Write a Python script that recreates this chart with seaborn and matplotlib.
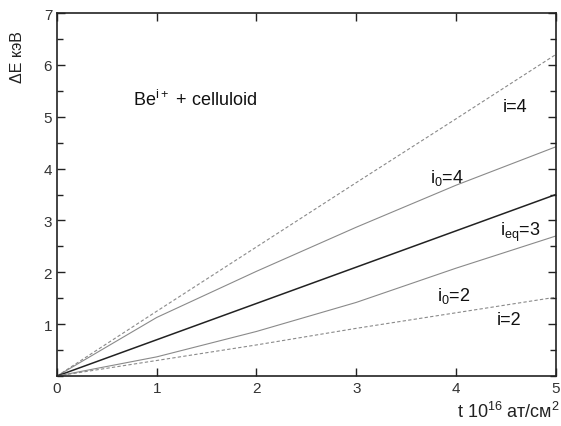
import numpy as np
import pandas as pd
import matplotlib
matplotlib.use("Agg")
import matplotlib.pyplot as plt
from matplotlib.ticker import MultipleLocator
import seaborn as sns

# values (t in 10^16 at/cm^2, dE in keV)
t = [0, 1, 2, 3, 4, 5]
de_i4 = [0, 1.25, 2.49, 3.73, 4.96, 6.2]
de_i0_4 = [0, 1.13, 2.02, 2.87, 3.68, 4.42]
de_ieq3 = [0, 0.7, 1.4, 2.1, 2.8, 3.5]
de_i0_2 = [0, 0.37, 0.86, 1.42, 2.08, 2.7]
de_i2 = [0, 0.3, 0.6, 0.92, 1.22, 1.52]

sns.set_style("ticks")
plt.rcParams['font.family'] = ['Liberation Sans', 'DejaVu Sans']
plt.rcParams['mathtext.default'] = 'regular'

fig = plt.figure(figsize=(5.61, 4.27), dpi=100)
ax = fig.add_axes([0.1016, 0.117, 0.889, 0.850])

series = [
    (de_i4, '#8a8a8a', (0, (3, 2)), 0.8),
    (de_i0_4, '#8a8a8a', '-', 0.8),
    (de_ieq3, '#222222', '-', 1.1),
    (de_i0_2, '#8a8a8a', '-', 0.8),
    (de_i2, '#8a8a8a', (0, (3, 2)), 0.8),
]
for vals, col, ls, lw in series:
    df = pd.DataFrame({'t': t, 'dE': vals})
    sns.lineplot(data=df, x='t', y='dE', ax=ax, color=col, linewidth=lw,
                 linestyle=ls, legend=False)

ax.set_xlim(0, 5)
ax.set_ylim(0, 7)
ax.set_xticks([0, 1, 2, 3, 4, 5])
ax.set_yticks([1, 2, 3, 4, 5, 6, 7])
ax.yaxis.set_minor_locator(MultipleLocator(0.5))
ax.tick_params(which='both', direction='in', top=True, right=True,
               labelsize=11, labelcolor='#333333', color='#222222')
ax.tick_params(which='major', length=6, width=1)
ax.tick_params(which='minor', length=4, width=1)
for s in ax.spines.values():
    s.set_linewidth(1.2)
    s.set_color('#222222')
ax.set_xlabel('')
ax.set_ylabel('')

ax.text(-0.08, 0.882, 'ΔE кэВ', transform=ax.transAxes, rotation=90,
        ha='center', va='center', fontsize=11.5, color='#222222')
ax.text(1.008, -0.096, 't 10$^{16}$ ат/см$^{2}$', transform=ax.transAxes,
        ha='right', va='center', fontsize=13, color='#222222')

ax.text(0.76, 5.34, 'Be$^{i+}$ + celluloid', fontsize=13, va='center', color='#111111')
ax.text(4.47, 5.19, 'i=4', fontsize=13, va='center', color='#111111')
ax.text(3.74, 3.84, 'i$_{0}$=4', fontsize=13, va='center', color='#111111')
ax.text(4.44, 2.78, 'i$_{eq}$=3', fontsize=13, va='center', color='#111111')
ax.text(3.81, 1.56, 'i$_{0}$=2', fontsize=13, va='center', color='#111111')
ax.text(4.41, 1.10, 'i=2', fontsize=13, va='center', color='#111111')

fig.savefig('out.png', dpi=100)
